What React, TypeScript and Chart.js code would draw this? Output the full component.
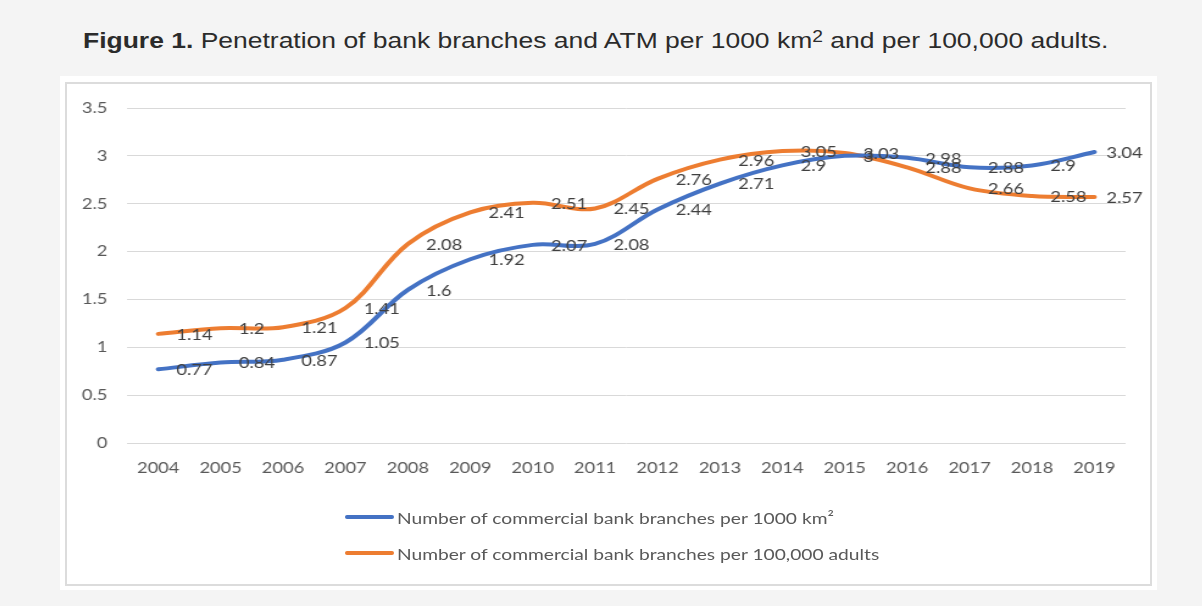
import React, { useEffect, useRef } from "react";
import { Chart, registerables } from "chart.js";

Chart.register(...registerables);

const years = ["2004","2005","2006","2007","2008","2009","2010","2011","2012","2013","2014","2015","2016","2017","2018","2019"];
const branchesPerArea = [0.77,0.84,0.87,1.05,1.6,1.92,2.07,2.08,2.44,2.71,2.9,3,2.98,2.88,2.9,3.04];
const branchesPerAdults = [1.14,1.2,1.21,1.41,2.08,2.41,2.51,2.45,2.76,2.96,3.05,3.03,2.88,2.66,2.58,2.57];
const seriesNames = [
  "Number of commercial bank branches per 1000 km²",
  "Number of commercial bank branches per 100,000 adults",
];
const seriesColors = ["#4472C4", "#ED7D31"];

const FONT = "Lato, 'Noto Sans', sans-serif";
const S = 1.22; // horizontal stretch of the reference picture
const CW = 1084;
const CH = 500;
const IW = Math.round(CW / S);

const labelPlugin = {
  id: "pointLabels",
  afterDatasetsDraw(chart: any) {
    const ctx = chart.ctx;
    ctx.save();
    ctx.font = `15px ${FONT}`;
    ctx.fillStyle = "#404040";
    ctx.textAlign = "left";
    ctx.textBaseline = "middle";
    chart.data.datasets.forEach((ds: any, i: number) => {
      const meta = chart.getDatasetMeta(i);
      meta.data.forEach((pt: any, j: number) => {
        const txt = String(ds.data[j]);
        const w = ctx.measureText(txt).width;
        const x = Math.min(pt.x + 15, chart.width - w - 6);
        ctx.fillText(txt, x, pt.y + 1);
      });
    });
    ctx.restore();
  },
};

export default function App() {
  const ref = useRef<HTMLCanvasElement | null>(null);
  useEffect(() => {
    if (!ref.current) return;
    const chart = new Chart(ref.current, {
      type: "line",
      data: {
        labels: years,
        datasets: [
          { label: seriesNames[0], data: branchesPerArea, borderColor: seriesColors[0], backgroundColor: seriesColors[0], borderWidth: 4, tension: 0.35, pointRadius: 0, borderCapStyle: "round" },
          { label: seriesNames[1], data: branchesPerAdults, borderColor: seriesColors[1], backgroundColor: seriesColors[1], borderWidth: 4, tension: 0.35, pointRadius: 0, borderCapStyle: "round" },
        ],
      },
      options: {
        animation: false,
        responsive: false,
        maintainAspectRatio: false,
        devicePixelRatio: 1,
        layout: { padding: { left: 0, right: Math.round(24 / S), top: 25, bottom: 0 } },
        plugins: { legend: { display: false }, tooltip: { enabled: false } },
        scales: {
          x: {
            offset: true,
            grid: { display: false, drawTicks: false },
            border: { display: false },
            ticks: { color: "#595959", font: { family: FONT, size: 15 }, padding: 16, maxRotation: 0, autoSkip: false },
            afterFit: (s: any) => { s.height = 140; },
          },
          y: {
            min: 0,
            max: 3.5,
            ticks: { stepSize: 0.5, color: "#595959", font: { family: FONT, size: 15 }, padding: Math.round(20 / S), callback: (v: any) => String(v) },
            grid: { color: "#d9d9d9", lineWidth: 1, drawTicks: false },
            border: { display: false },
            afterFit: (s: any) => { s.width = Math.round(61 / S); },
          },
        },
      },
      plugins: [labelPlugin],
    } as any);
    return () => chart.destroy();
  }, []);

  return (
    <div style={{ position: "absolute", left: 0, top: 0, width: 1202, height: 606, background: "#f4f4f4", overflow: "hidden" }}>
      <div style={{ position: "absolute", left: 83, top: 28, whiteSpace: "nowrap", fontFamily: "'Liberation Sans', Arial, sans-serif", fontSize: 22, color: "#2b2b2b", transform: `scaleX(${1025 / 852})`, transformOrigin: "left center" }}>
        <b>Figure 1.</b> Penetration of bank branches and ATM per 1000 km<sup style={{ fontSize: 16, verticalAlign: "6px" }}>2</sup> and per 100,000 adults.
      </div>
      <div style={{ position: "absolute", left: 60, top: 76, width: 1097, height: 514, background: "#ffffff" }} />
      <div style={{ position: "absolute", left: 65, top: 82, width: 1083, height: 500, border: "2px solid #dcdcdc" }} />
      <canvas ref={ref} width={IW} height={CH} style={{ position: "absolute", left: 66, top: 83, width: CW, height: CH }} />
      {seriesNames.map((n, i) => (
        <div key={n} style={{ position: "absolute", left: 345, top: 506 + i * 36, height: 22, display: "flex", alignItems: "center", whiteSpace: "nowrap" }}>
          <span style={{ display: "inline-block", width: 49, height: 4, background: seriesColors[i], borderRadius: 2, marginRight: 3 }} />
          <span style={{ display: "inline-block", fontFamily: FONT, fontSize: 16, color: "#595959", transform: "scaleX(1.2)", transformOrigin: "left center" }}>{n}</span>
        </div>
      ))}
    </div>
  );
}
